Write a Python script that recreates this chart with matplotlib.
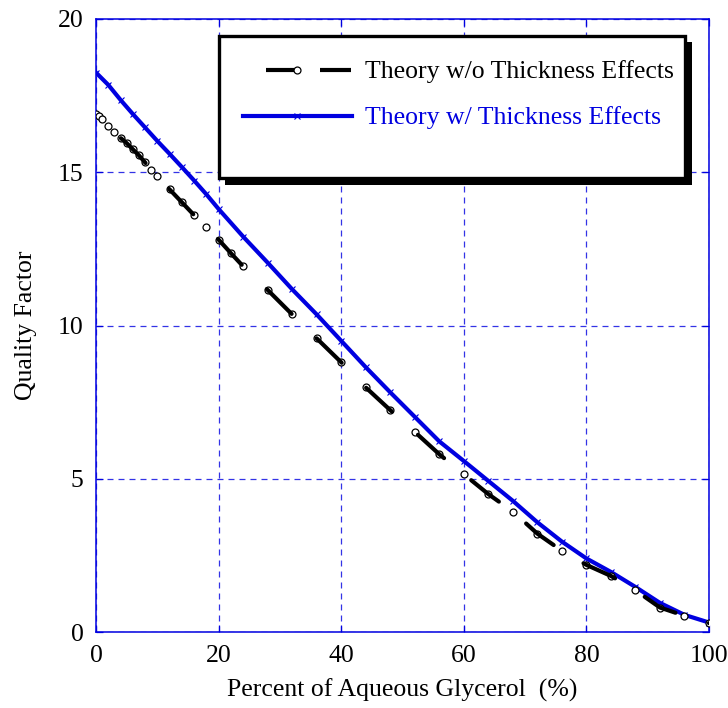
import matplotlib
matplotlib.use('Agg')
import matplotlib.pyplot as plt
from matplotlib.patches import Rectangle
from matplotlib.lines import Line2D

plt.rcParams['font.family'] = ['Liberation Serif', 'DejaVu Serif']
plt.rcParams['lines.scale_dashes'] = False

# data
#
x_thin = [0, 0.5, 1, 2, 3, 4, 5, 6, 7, 8, 9, 10, 12, 14, 16, 18, 20, 22, 24,
          28, 32, 36, 40, 44, 48, 52, 56, 60, 64, 68, 72, 76, 80, 84, 88, 92, 96, 100]
q_thin = [16.9, 16.85, 16.75, 16.5, 16.3, 16.12, 15.95, 15.75, 15.55, 15.32, 15.08, 14.87,
          14.44, 14.02, 13.6, 13.2, 12.8, 12.36, 11.93,
          11.16, 10.36, 9.58, 8.8, 7.98, 7.24, 6.53, 5.8, 5.15, 4.5, 3.93, 3.21, 2.65,
          2.19, 1.83, 1.36, 0.8, 0.53, 0.29]

x_thick = [0, 2, 4, 6, 8, 10, 12, 14, 16, 18, 20, 24, 28, 32, 36, 40, 44, 48,
           52, 56, 60, 64, 68, 72, 76, 80, 84, 88, 92, 96, 100]
q_thick = [18.25, 17.85, 17.36, 16.9, 16.46, 16.02, 15.6, 15.17, 14.73, 14.28, 13.8,
           12.9, 12.05, 11.18, 10.36, 9.5, 8.64, 7.82, 7.02, 6.22, 5.58, 4.93, 4.28,
           3.58, 2.95, 2.4, 1.96, 1.47, 0.95, 0.56, 0.31]

label_thin = 'Theory w/o Thickness Effects'
label_thick = 'Theory w/ Thickness Effects'

BLUE = '#0000e0'
px = 72.0 / 100  # one pixel in points
FS = 18.5

fig = plt.figure(figsize=(7.28, 7.08), dpi=100)
ax = fig.add_axes([0.1319, 0.1073, 0.842, 0.8659])

# curves
ax.plot(x_thick, q_thick, color=BLUE, lw=3.0, marker='x', ms=4, mew=0.8, zorder=3)
ax.plot(x_thin, q_thin, ls='none', marker='o', ms=5, mfc='white', mec='black',
        mew=0.9, zorder=4)
ax.plot(x_thin, q_thin, color='black', lw=3.0, zorder=5,
        linestyle=(35 * px, (35 * px, 35 * px)), solid_capstyle='round',
        dash_capstyle='round')

ax.set_xlim(0, 100)
ax.set_ylim(0, 20)
ax.set_xticks([0, 20, 40, 60, 80, 100])
ax.set_yticks([0, 5, 10, 15, 20])
ax.grid(True, color=BLUE, lw=0.9, linestyle=(0, (6 * px, 5 * px)), alpha=0.8)
for s in ax.spines.values():
    s.set_color(BLUE)
    s.set_linewidth(1.1)
ax.tick_params(direction='in', length=5, width=0.9, color=BLUE, labelsize=FS,
               pad=9, top=True, right=True)
ax.set_xlabel('Percent of Aqueous Glycerol  (%)', fontsize=FS, labelpad=9)
ax.set_ylabel('Quality Factor', fontsize=FS, labelpad=15)

# legend box with a black shadow
def fx(p):
    return (p - 96) / 613.0

def fy(p):
    return (632 - p) / 613.0

ax.add_patch(Rectangle((fx(225), fy(185)), fx(692) - fx(225), fy(42) - fy(185),
                       transform=ax.transAxes, facecolor='black', edgecolor='black',
                       lw=0, zorder=8, clip_on=False))
ax.add_patch(Rectangle((fx(219), fy(178)), fx(685) - fx(219), fy(36) - fy(178),
                       transform=ax.transAxes, facecolor='white', edgecolor='black',
                       lw=2.4, zorder=9, clip_on=False))

l1 = Line2D([fx(243), fx(352)], [fy(70), fy(70)], transform=ax.transAxes, color='black',
            lw=3.0, linestyle=(31 * px, (31 * px, 23 * px)), zorder=10)
m1 = Line2D([fx(297)], [fy(70)], transform=ax.transAxes, ls='none', marker='o', ms=5,
            mfc='white', mec='black', mew=0.9, zorder=11)
l2 = Line2D([fx(243), fx(352)], [fy(116), fy(116)], transform=ax.transAxes, color=BLUE,
            lw=3.0, zorder=10)
m2 = Line2D([fx(297)], [fy(116)], transform=ax.transAxes, ls='none', marker='x', ms=4,
            mew=0.8, color=BLUE, zorder=11)
for art in (l1, m1, l2, m2):
    ax.add_line(art)
    art.set_clip_on(False)

ax.text(fx(365), fy(72), label_thin, transform=ax.transAxes, fontsize=FS,
        color='black', va='center', ha='left', zorder=12)
ax.text(fx(365), fy(118), label_thick, transform=ax.transAxes, fontsize=FS,
        color=BLUE, va='center', ha='left', zorder=12)

fig.savefig('out.png', dpi=100)
